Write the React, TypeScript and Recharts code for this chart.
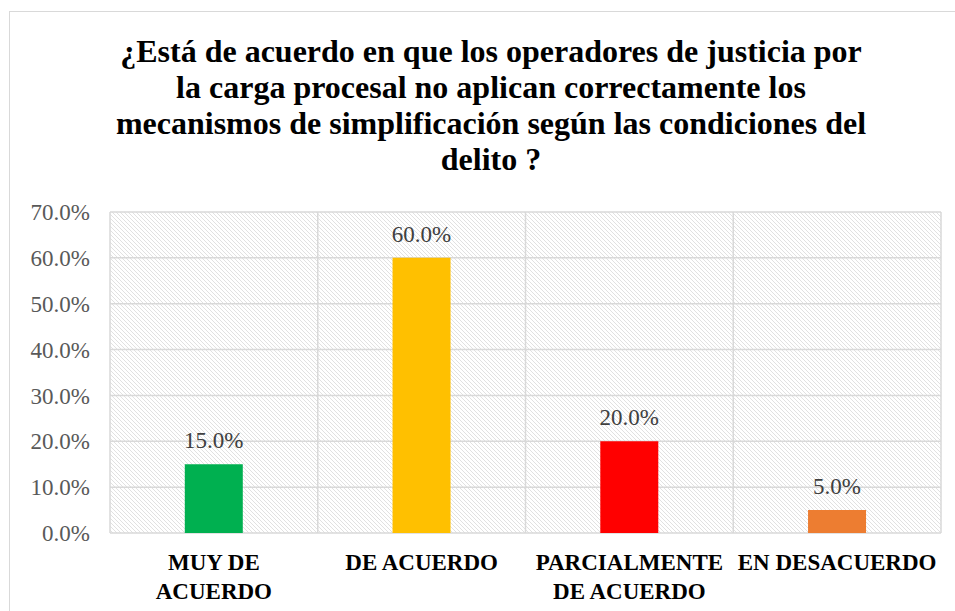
import React from 'react';
import { BarChart, Bar, XAxis, YAxis, CartesianGrid, Cell, LabelList } from 'recharts';

const categories = ['MUY DE ACUERDO', 'DE ACUERDO', 'PARCIALMENTE DE ACUERDO', 'EN DESACUERDO'];
const percentages = [15, 60, 20, 5];
const barColors = ['#00B050', '#FFC000', '#FF0000', '#ED7D31'];
const yTicks = [0, 10, 20, 30, 40, 50, 60, 70];
const titleLines = [
  '¿Está de acuerdo en que los operadores de justicia por',
  'la carga procesal no aplican correctamente los',
  'mecanismos de simplificación según las condiciones del',
  'delito ?',
];

const data = categories.map((name, i) => ({ name, value: percentages[i] }));

const FONT = '"Liberation Serif", "Times New Roman", serif';
const GRID = '#d9d9d9';

// wrap a label into lines of at most maxChars characters
const wrap = (label: string, maxChars = 13) => {
  const lines: string[] = [];
  let cur = '';
  label.split(' ').forEach((w) => {
    const next = cur ? cur + ' ' + w : w;
    if (next.length > maxChars && cur) {
      lines.push(cur);
      cur = w;
    } else {
      cur = next;
    }
  });
  if (cur) lines.push(cur);
  return lines;
};

const CategoryTick = (props: any) => {
  const { x, y, payload } = props;
  const lines = wrap(payload.value);
  return (
    <text x={x} y={y} textAnchor="middle" fontFamily={FONT} fontWeight="bold" fontSize={23} fill="#000">
      {lines.map((line, i) => (
        <tspan key={i} x={x} dy={29}>
          {line}
        </tspan>
      ))}
    </text>
  );
};

const fmt = (v: number) => `${v.toFixed(1)}%`;

const App: React.FC = () => {
  return (
    <div style={{ position: 'absolute', left: 0, top: 0, width: 955, height: 611, background: '#fff', overflow: 'hidden' }}>
      <div
        style={{
          position: 'absolute',
          left: 9,
          top: 11,
          width: 960,
          height: 620,
          border: `1.5px solid ${GRID}`,
          boxSizing: 'border-box',
        }}
      />
      <svg width={955} height={200} style={{ position: 'absolute', left: 0, top: 0 }}>
        <text x={491} textAnchor="middle" fontFamily={FONT} fontWeight="bold" fontSize={32} fill="#000">
          {titleLines.map((l, i) => (
            <tspan key={i} x={491} y={62 + i * 36}>
              {l}
            </tspan>
          ))}
        </text>
      </svg>
      <BarChart
        width={955}
        height={611}
        data={data}
        margin={{ top: 212, right: 14, bottom: 0, left: 0 }}
        barCategoryGap="36%"
        style={{ position: 'absolute', left: 0, top: 0 }}
      >
        <defs>
          <pattern id="hatch" width="4" height="4" patternUnits="userSpaceOnUse">
            <rect width="4" height="4" fill="#fff" />
            <path d="M-1,-1 L5,5 M-1,3 L1,5 M3,-1 L5,1" stroke="#dedede" strokeWidth="0.9" />
          </pattern>
        </defs>
        <CartesianGrid
          fill="url(#hatch)"
          stroke={GRID}
          strokeWidth={1.5}
          verticalCoordinatesGenerator={({ offset }: any) =>
            categories.map((_, i) => offset.left + (i * offset.width) / categories.length).concat(offset.left + offset.width)
          }
        />
        <XAxis dataKey="name" axisLine={false} tickLine={false} height={78} interval={0} tick={<CategoryTick />} />
        <YAxis
          domain={[0, 70]}
          ticks={yTicks}
          width={110}
          axisLine={false}
          tickLine={false}
          tickMargin={14}
          tickFormatter={fmt}
          tick={{ fontFamily: FONT, fontSize: 23, fill: '#595959' }}
        />
        <Bar dataKey="value" isAnimationActive={false}>
          {data.map((d, i) => (
            <Cell key={d.name} fill={barColors[i]} />
          ))}
          <LabelList
            dataKey="value"
            position="top"
            offset={16}
            formatter={(v: any) => fmt(Number(v))}
            style={{ fontFamily: FONT, fontSize: 23, fill: '#404040' }}
          />
        </Bar>
      </BarChart>
    </div>
  );
};

export default App;
